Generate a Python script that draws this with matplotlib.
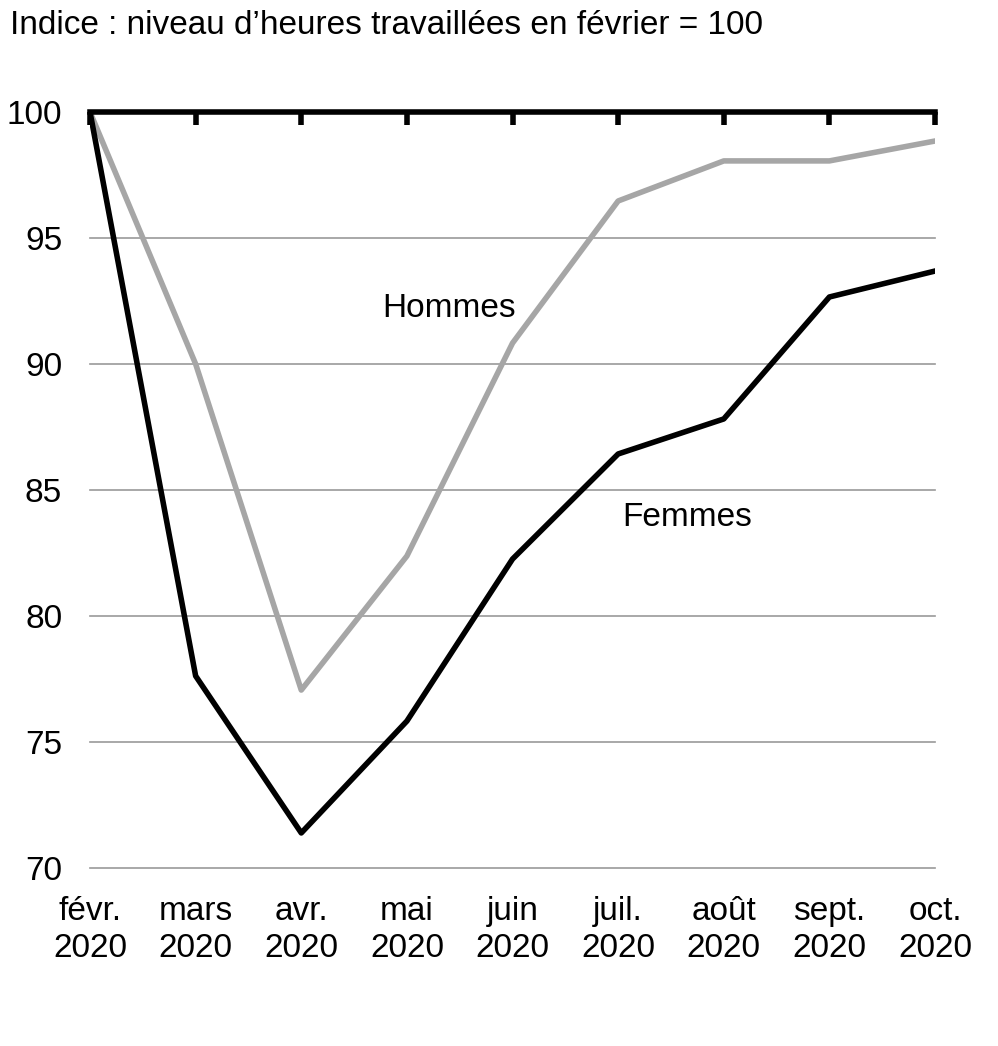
import matplotlib.pyplot as plt

plt.rcParams["font.family"] = ["Liberation Sans", "DejaVu Sans"]

months = ["févr.\n2020", "mars\n2020", "avr.\n2020", "mai\n2020", "juin\n2020",
          "juil.\n2020", "août\n2020", "sept.\n2020", "oct.\n2020"]
hommes = [100.0, 90.0, 77.06, 82.38, 90.83, 96.47, 98.06, 98.06, 98.85]
femmes = [100.0, 77.62, 71.39, 75.83, 82.26, 86.43, 87.82, 92.66, 93.69]
y_ticks = [70, 75, 80, 85, 90, 95, 100]

fig = plt.figure(figsize=(9.98, 10.46), dpi=100)
ax = fig.add_axes([0.0902, 0.1702, 0.8467, 0.7227])
x = range(len(months))

for yv in y_ticks[:-1]:
    ax.axhline(yv, color="#999999", linewidth=1.2, zorder=1, clip_on=False)
ax.plot(x, hommes, color="#a6a6a6", linewidth=4.0, zorder=3)
ax.plot(x, femmes, color="black", linewidth=4.0, zorder=4)
ax.axhline(100, color="black", linewidth=4.0, zorder=5, clip_on=False)

ax.set_xlim(0, len(months) - 1)
ax.set_ylim(70, 100)
ax.set_yticks(y_ticks)
ax.set_xticks(list(x))
ax.set_xticklabels(months)
for s in ax.spines.values():
    s.set_visible(False)
ax.tick_params(axis="y", length=0, labelsize=24, pad=20)
ax.tick_params(axis="x", top=True, bottom=False, labelbottom=True, direction="in",
               length=9, width=4.0, labelsize=24, pad=20)
for t in ax.get_xticklabels():
    t.set_linespacing(1.25)

ax.text(3.4, 92.2, "Hommes", fontsize=24, ha="center", va="center")
ax.text(5.65, 83.9, "Femmes", fontsize=24, ha="center", va="center")
fig.text(0.01, 0.99, "Indice : niveau d\u2019heures travaillées en février = 100",
         fontsize=24, ha="left", va="top")

fig.savefig("out.png", dpi=100)
